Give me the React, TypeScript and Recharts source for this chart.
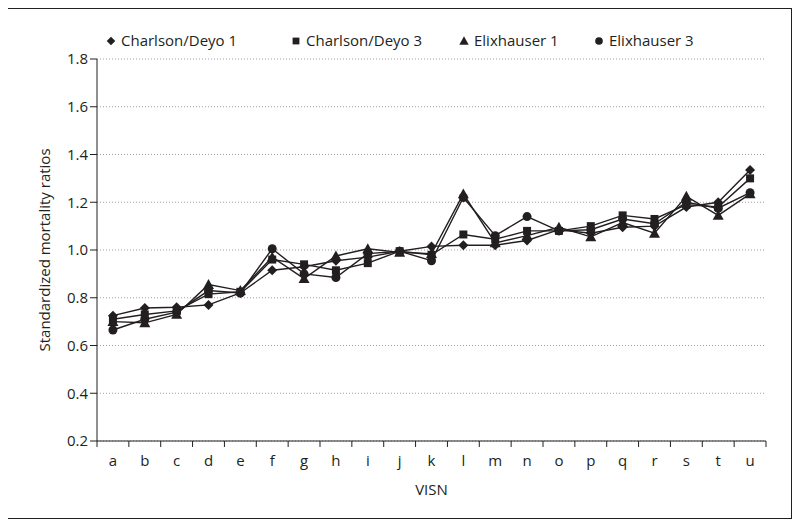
import React from 'react'
import { LineChart, Line, XAxis, YAxis, CartesianGrid } from 'recharts'

const visn = ['a', 'b', 'c', 'd', 'e', 'f', 'g', 'h', 'i', 'j', 'k', 'l', 'm', 'n', 'o', 'p', 'q', 'r', 's', 't', 'u']
const charlson1 = [0.725, 0.757, 0.76, 0.77, 0.82, 0.915, 0.93, 0.955, 0.97, 0.995, 1.015, 1.02, 1.02, 1.04, 1.085, 1.07, 1.095, 1.1, 1.18, 1.2, 1.335]
const charlson3 = [0.71, 0.73, 0.745, 0.815, 0.825, 0.96, 0.94, 0.915, 0.945, 0.995, 0.98, 1.065, 1.045, 1.08, 1.08, 1.1, 1.145, 1.13, 1.19, 1.18, 1.3]
const elix1 = [0.7, 0.695, 0.73, 0.855, 0.83, 0.97, 0.88, 0.975, 1.005, 0.99, 0.985, 1.235, 1.03, 1.06, 1.095, 1.055, 1.115, 1.07, 1.225, 1.145, 1.235]
const elix3 = [0.665, 0.71, 0.74, 0.83, 0.82, 1.005, 0.9, 0.885, 0.985, 0.995, 0.955, 1.22, 1.06, 1.14, 1.08, 1.085, 1.13, 1.11, 1.2, 1.175, 1.24]
const yTicks = [0.2, 0.4, 0.6, 0.8, 1.0, 1.2, 1.4, 1.6, 1.8]

const series = [
  { key: 'c1', name: 'Charlson/Deyo 1', shape: 'diamond', values: charlson1 },
  { key: 'c3', name: 'Charlson/Deyo 3', shape: 'square', values: charlson3 },
  { key: 'e1', name: 'Elixhauser 1', shape: 'triangle', values: elix1 },
  { key: 'e3', name: 'Elixhauser 3', shape: 'circle', values: elix3 },
]

const data = visn.map((v, i) => {
  const row: Record<string, string | number> = { visn: v }
  series.forEach(s => { row[s.key] = s.values[i] })
  return row
})

const INK = '#231f20'
const FONT = '"Open Sans", sans-serif'

function Marker({ shape, cx, cy, s = 1 }: { shape: string; cx: number; cy: number; s?: number }) {
  if (cx == null || cy == null) return null
  if (shape === 'diamond') {
    const r = 5 * s
    return <polygon points={`${cx},${cy - r} ${cx + r},${cy} ${cx},${cy + r} ${cx - r},${cy}`} fill={INK} />
  }
  if (shape === 'square') {
    const r = 4 * s
    return <rect x={cx - r} y={cy - r} width={2 * r} height={2 * r} fill={INK} />
  }
  if (shape === 'triangle') {
    const r = 5.5 * s
    return <polygon points={`${cx},${cy - r} ${cx + r},${cy + r * 0.8} ${cx - r},${cy + r * 0.8}`} fill={INK} />
  }
  return <circle cx={cx} cy={cy} r={4.5 * s} fill={INK} />
}

// category labels sit in the bands, tick marks on the band edges
function CatTick(props: any) {
  const { x, y, payload, index, width, visibleTicksCount } = props
  const step = width / visibleTicksCount
  const axisY = y - 9
  return (
    <g>
      <line x1={x - step / 2} x2={x - step / 2} y1={axisY} y2={axisY + 6} stroke={INK} />
      {index === visibleTicksCount - 1 && (
        <line x1={x + step / 2} x2={x + step / 2} y1={axisY} y2={axisY + 6} stroke={INK} />
      )}
      <text x={x} y={y} dy={16} textAnchor="middle" fill={INK} fontSize={15} fontFamily={FONT}>
        {payload.value}
      </text>
    </g>
  )
}

function LegendRow() {
  const lefts = [104, 289, 457, 592]
  return (
    <div style={{ position: 'absolute', top: 30, left: 0, width: 800, height: 24 }}>
      {series.map((s, i) => (
        <div key={s.key} style={{ position: 'absolute', left: lefts[i], top: 0, display: 'flex', alignItems: 'center', whiteSpace: 'nowrap' }}>
          <svg width={14} height={20}>
            <Marker shape={s.shape} cx={7} cy={11} s={0.85} />
          </svg>
          <span style={{ fontFamily: FONT, fontSize: 15, color: INK, marginLeft: 3 }}>{s.name}</span>
        </div>
      ))}
    </div>
  )
}

export default function App() {
  return (
    <div style={{ position: 'relative', width: 800, height: 527, margin: -8, background: '#fff' }}>
      <div style={{ position: 'absolute', left: 6, top: 8, width: 786, height: 511, border: `1px solid ${INK}`, boxSizing: 'border-box' }} />
      <LegendRow />
      <div style={{ position: 'absolute', left: 0, top: 0 }}>
        <LineChart width={800} height={527} data={data} margin={{ top: 59, right: 34, bottom: 26, left: 0 }}>
          <CartesianGrid horizontal vertical={false} stroke="#a0a0a0" strokeDasharray="1 2" />
          <XAxis
            dataKey="visn"
            scale="band"
            height={60}
            tickLine={false}
            tickSize={5}
            tickMargin={4}
            axisLine={{ stroke: INK }}
            tick={<CatTick />}
            interval={0}
            label={{ value: 'VISN', position: 'insideBottom', offset: 6, fill: INK, fontSize: 15, fontFamily: FONT }}
          />
          <YAxis
            width={97}
            domain={[0.2, 1.8]}
            ticks={yTicks}
            tickFormatter={(v: number) => v.toFixed(1)}
            axisLine={{ stroke: INK }}
            tickLine={{ stroke: INK }}
            tickSize={7}
            tick={{ fill: INK, fontSize: 15, fontFamily: FONT }}
            label={{ value: 'Standardized mortality ratios', angle: -90, position: 'insideLeft', offset: 45, fill: INK, fontSize: 15, fontFamily: FONT, style: { textAnchor: 'middle' } }}
          />
          {series.map(s => (
            <Line
              key={s.key}
              dataKey={s.key}
              name={s.name}
              type="linear"
              stroke={INK}
              strokeWidth={1.4}
              isAnimationActive={false}
              dot={(p: any) => <Marker key={`${s.key}-${p.index}`} shape={s.shape} cx={p.cx} cy={p.cy} />}
              activeDot={false}
            />
          ))}
        </LineChart>
      </div>
    </div>
  )
}
